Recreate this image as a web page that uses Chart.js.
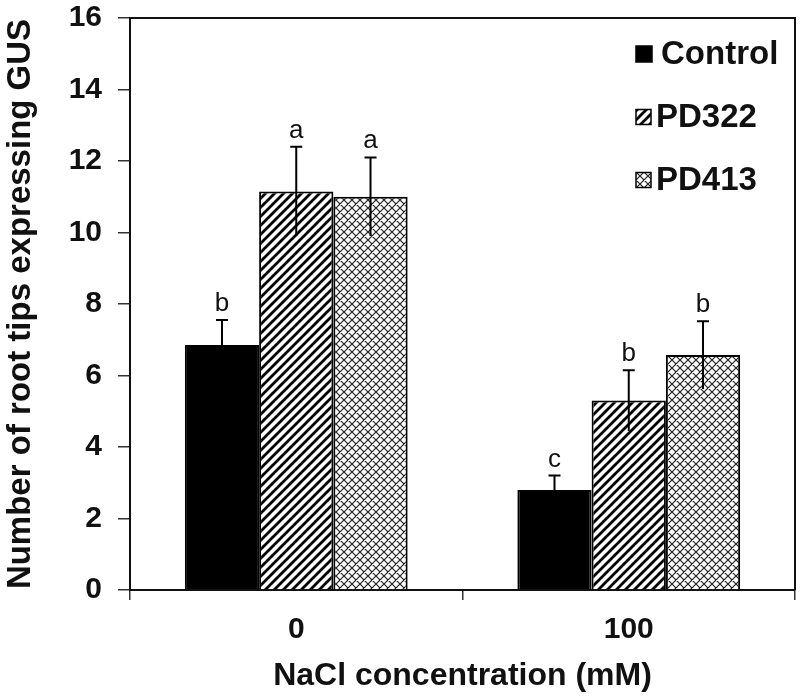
<!DOCTYPE html>
<html>
<head>
<meta charset="utf-8">
<script src="https://cdn.jsdelivr.net/npm/chart.js@4.4.1/dist/chart.umd.min.js"></script>
<style>
  body { margin: 0; background: #fff; }
  canvas { display: block; }
</style>
</head>
<body>
<canvas id="myChart" width="800" height="700"></canvas>
<script>
const categories = ['0', '100'];
const controlValues = [6.85, 2.8];
const controlErrors = [0.7, 0.4];
const pd322Values = [11.15, 5.3];
const pd322Errors = [1.25, 0.85];
const pd413Values = [11.0, 6.57];
const pd413Errors = [1.1, 0.95];
const controlLetters = ['b', 'c'];
const pd322Letters = ['a', 'b'];
const pd413Letters = ['a', 'b'];

const FONT = "'Liberation Sans', Arial, sans-serif";

// diagonal "/" hatch
const makeHatch = () => {
    const p = 9;
    const c = document.createElement('canvas');
    c.width = p; c.height = p;
    const g = c.getContext('2d');
    g.fillStyle = '#fff';
    g.fillRect(0, 0, p, p);
    g.strokeStyle = '#000';
    g.lineWidth = 2.8;
    g.beginPath();
    g.moveTo(-2, 2); g.lineTo(2, -2);
    g.moveTo(0, p); g.lineTo(p, 0);
    g.moveTo(p - 2, p + 2); g.lineTo(p + 2, p - 2);
    g.stroke();
    return g.createPattern(c, 'repeat');
}

// diagonal crosshatch
const makeCross = () => {
    const p = 8;
    const c = document.createElement('canvas');
    c.width = p; c.height = p;
    const g = c.getContext('2d');
    g.fillStyle = '#fff';
    g.fillRect(0, 0, p, p);
    g.strokeStyle = '#222';
    g.lineWidth = 1.2;
    g.beginPath();
    g.moveTo(0, p); g.lineTo(p, 0);
    g.moveTo(-2, 2); g.lineTo(2, -2);
    g.moveTo(p - 2, p + 2); g.lineTo(p + 2, p - 2);
    g.moveTo(0, 0); g.lineTo(p, p);
    g.moveTo(-2, p - 2); g.lineTo(2, p + 2);
    g.moveTo(p - 2, -2); g.lineTo(p + 2, 2);
    g.stroke();
    return g.createPattern(c, 'repeat');
}

const hatch = makeHatch();
const cross = makeCross();

const errorBars = {
    id: 'errorBars',
    afterDatasetsDraw(chart) {
        const ctx = chart.ctx;
        const y = chart.scales.y;
        ctx.save();
        chart.data.datasets.forEach((ds, di) => {
            const meta = chart.getDatasetMeta(di);
            meta.data.forEach((bar, i) => {
                const v = ds.data[i];
                const e = ds.errors[i];
                const top = y.getPixelForValue(v + e);
                const bottom = y.getPixelForValue(v - e);
                ctx.strokeStyle = '#000';
                ctx.lineWidth = 2;
                ctx.beginPath();
                ctx.moveTo(bar.x, bottom);
                ctx.lineTo(bar.x, top);
                ctx.moveTo(bar.x - 6, top);
                ctx.lineTo(bar.x + 6, top);
                ctx.stroke();
                ctx.fillStyle = '#111';
                ctx.font = `26px ${FONT}`;
                ctx.textAlign = 'center';
                ctx.textBaseline = 'alphabetic';
                ctx.fillText(ds.letters[i], bar.x, top - 9);
            });
        });
        ctx.restore();
    }
}

const frameAndLegend = {
    id: 'frameAndLegend',
    afterDraw(chart) {
        const ctx = chart.ctx;
        const a = chart.chartArea;
        ctx.save();
        ctx.strokeStyle = '#111';
        ctx.lineWidth = 2;
        ctx.beginPath();
        ctx.moveTo(a.left, a.top);
        ctx.lineTo(a.right, a.top);
        ctx.lineTo(a.right, a.bottom);
        ctx.stroke();

        const rows = [54, 117, 180];
        chart.data.datasets.forEach((ds, i) => {
            const cy = rows[i];
            const s = i === 0 ? 16 : 15;
            ctx.fillStyle = ds.backgroundColor;
            ctx.fillRect(636, cy - s / 2, s, s);
            ctx.strokeStyle = '#000';
            ctx.lineWidth = 1.5;
            ctx.strokeRect(636, cy - s / 2, s, s);
            ctx.fillStyle = '#111';
            ctx.font = `bold 33px ${FONT}`;
            ctx.textAlign = 'left';
            ctx.textBaseline = 'middle';
            ctx.fillText(ds.label, i === 0 ? 661 : 656, cy + 1);
        });
        ctx.restore();
    }
}

const ctx = document.getElementById('myChart');

new Chart(ctx, {
    type: 'bar',
    data: {
        labels: categories,
        datasets: [
            { label: 'Control', data: controlValues, errors: controlErrors, letters: controlLetters,
              backgroundColor: '#000', borderColor: '#000', borderWidth: 2 },
            { label: 'PD322', data: pd322Values, errors: pd322Errors, letters: pd322Letters,
              backgroundColor: hatch, borderColor: '#000', borderWidth: 2 },
            { label: 'PD413', data: pd413Values, errors: pd413Errors, letters: pd413Letters,
              backgroundColor: cross, borderColor: '#000', borderWidth: 2 }
        ]
    },
    options: {
        responsive: false,
        animation: false,
        categoryPercentage: 0.67,
        barPercentage: 1.0,
        layout: { padding: { top: 18, right: 5, left: 0, bottom: 0 } },
        plugins: {
            legend: { display: false },
            tooltip: { enabled: false }
        },
        scales: {
            x: {
                afterFit: (scale) => { scale.height = 110; scale.paddingLeft = 0; scale.paddingRight = 0; },
                grid: { display: true, offset: true, drawOnChartArea: false, tickLength: 10, color: '#333', lineWidth: 1.5 },
                border: { color: '#111', width: 2 },
                ticks: { color: '#111', font: { family: FONT, size: 30, weight: 'bold' }, padding: 12 },
                title: {
                    display: true,
                    text: 'NaCl concentration (mM)',
                    color: '#111',
                    font: { family: FONT, size: 32, weight: 'bold' },
                    padding: { top: 0, bottom: 5 }
                }
            },
            y: {
                min: 0,
                max: 16,
                afterFit: (scale) => { scale.width = 130; scale.paddingTop = 0; scale.paddingBottom = 0; },
                grid: { display: true, drawOnChartArea: false, tickLength: 12, color: '#333', lineWidth: 1.5 },
                border: { color: '#111', width: 2 },
                ticks: { stepSize: 2, color: '#111', font: { family: FONT, size: 30, weight: 'bold' }, padding: 16 },
                title: {
                    display: true,
                    text: 'Number of root tips expressing GUS',
                    color: '#111',
                    font: { family: FONT, size: 33, weight: 'bold' },
                    padding: { top: 1, bottom: 0 }
                }
            }
        }
    },
    plugins: [errorBars, frameAndLegend]
});
</script>
</body>
</html>
